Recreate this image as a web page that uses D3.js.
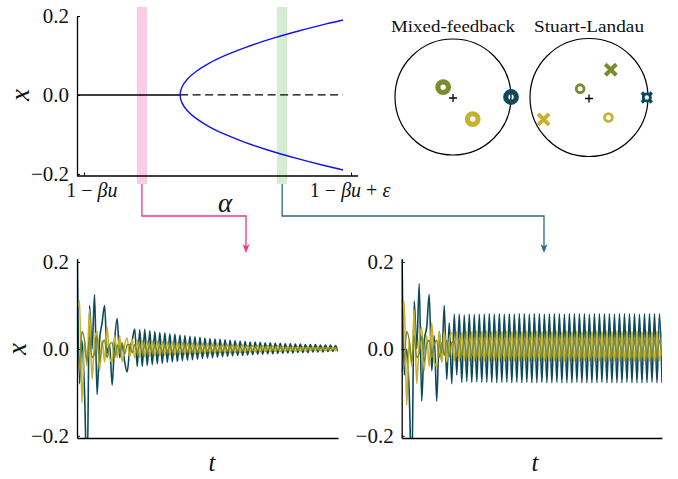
<!DOCTYPE html>
<html lang="en">
  <head>
    <meta charset="UTF-8" />
    <title>Mixed-feedback vs Stuart-Landau</title>
    <script src="https://d3js.org/d3.v7.min.js"></script>
    <style>
      body { margin: 0; background: #fff; }
      text { font-family: "Liberation Serif", "DejaVu Serif", serif; fill: #111; }
    </style>
  </head>
  <body>
    <div id="fig"></div>
    <script>
      // ---- bifurcation diagram data ----
      var alphaTicks = [0, 1];
      var alphaTickLabels = ["1 − βu", "1 − βu + ε"];
      var xTicks = [-0.2, 0, 0.2];
      var xTickLabels = ["−0.2", "0.0", "0.2"];
      var stableAlpha = [-0.026, 0.36];
      var unstableAlpha = [0.36, 0.97];
      var branchX = [-0.19, -0.18, -0.16, -0.14, -0.12, -0.10, -0.08, -0.06, -0.04, -0.02, 0,
                     0.02, 0.04, 0.06, 0.08, 0.10, 0.12, 0.14, 0.16, 0.18, 0.19];
      var branchAlpha = [0.97, 0.907, 0.793, 0.691, 0.603, 0.529, 0.468, 0.421, 0.387, 0.367, 0.36,
                         0.367, 0.387, 0.421, 0.468, 0.529, 0.603, 0.691, 0.793, 0.907, 0.97];
      var bandAlpha = [0.217, 0.742];
      var bandHalfWidth = 0.019;

      // ---- eigenvalues (re, im in units of the unit circle) ----
      var mfRe = [-0.17, 0.34, 1.0];
      var mfIm = [0.17, -0.38, 0.0];
      var mfKind = ["ring", "ring", "ring"];
      var mfSeries = ["olive", "yellow", "teal"];
      var slRe = [0.37, -0.15, -0.77, 0.33, 0.98];
      var slIm = [0.47, 0.15, -0.37, -0.34, 0.0];
      var slKind = ["x", "o", "x", "o", "xo"];
      var slSeries = ["olive", "olive", "yellow", "yellow", "teal"];

      // ---- time series, extrema every half period ----
      var leftTeal = [0.30, -0.08, 0.02, -0.10, -0.30, 0.10, 0.00, 0.125, -0.105, 0.02, 0.06, 0.10, -0.01, 0.01, -0.083,
        0.02, 0.07, -0.02, 0.01, -0.03, -0.053, 0.00, 0.02, 0.046, -0.040, 0.044, -0.040, 0.045, -0.038, 0.042,
        -0.036, 0.040, -0.034, 0.038, -0.033, 0.037, -0.031, 0.035, -0.030, 0.034, -0.029, 0.032, -0.027, 0.031,
        -0.026, 0.029, -0.025, 0.028, -0.024, 0.027, -0.022, 0.025, -0.021, 0.024, -0.020, 0.023, -0.019, 0.022,
        -0.018, 0.021, -0.017, 0.020, -0.016, 0.019, -0.015, 0.018, -0.015, 0.017, -0.014, 0.016, -0.013, 0.016,
        -0.012, 0.015, -0.012, 0.014, -0.011, 0.014, -0.011, 0.013, -0.010, 0.013, -0.010, 0.012, -0.009, 0.012,
        -0.009, 0.011, -0.008, 0.011, -0.008, 0.010, -0.008, 0.010, -0.007, 0.010, -0.007, 0.009, -0.007, 0.009,
        -0.006, 0.009, -0.006, 0.008, -0.006];
      var leftYellow = [0.09, 0.11, -0.125, 0.02, -0.04, 0.09, -0.07, 0.02, 0.04, -0.05, 0.02, -0.03, 0.05, -0.02, -0.03,
        0.03, -0.02, 0.03, -0.03, 0.01, 0.025, -0.020, 0.022, -0.020, 0.021, -0.019, 0.020, -0.018, 0.019, -0.017,
        0.018, -0.016, 0.018, -0.016, 0.017, -0.015, 0.016, -0.014, 0.016, -0.014, 0.015, -0.013, 0.014, -0.013,
        0.014, -0.012, 0.013, -0.012, 0.013, -0.011, 0.012, -0.011, 0.012, -0.010, 0.011, -0.010, 0.011, -0.009,
        0.010, -0.009, 0.010, -0.009, 0.009, -0.008, 0.009, -0.008, 0.009, -0.008, 0.008, -0.007, 0.008, -0.007,
        0.008, -0.007, 0.007, -0.006, 0.007, -0.006, 0.007, -0.006, 0.007, -0.006, 0.006, -0.005, 0.006, -0.005,
        0.006, -0.005, 0.006, -0.005, 0.005, -0.005, 0.005, -0.004, 0.005, -0.004, 0.005, -0.004, 0.005, -0.004,
        0.004, -0.004, 0.004, -0.004, 0.004];
      var leftOlive = [-0.05, -0.03, 0.04, 0.02, -0.03, 0.03, -0.02, -0.01, 0.03, -0.03, 0.01, 0.02, -0.02, 0.01, 0.015,
        -0.02, 0.01, -0.01, 0.015, -0.012, 0.010, 0.010, -0.009, 0.010, -0.009, 0.010, -0.009, 0.009, -0.008, 0.009,
        -0.008, 0.009, -0.008, 0.008, -0.007, 0.008, -0.007, 0.008, -0.007, 0.007, -0.007, 0.007, -0.006, 0.007,
        -0.006, 0.007, -0.006, 0.006, -0.006, 0.006, -0.005, 0.006, -0.005, 0.006, -0.005, 0.005, -0.005, 0.005,
        -0.005, 0.005, -0.004, 0.005, -0.004, 0.005, -0.004, 0.004, -0.004, 0.004, -0.004, 0.004, -0.004, 0.004,
        -0.003, 0.004, -0.003, 0.004, -0.003, 0.004, -0.003, 0.003, -0.003, 0.003, -0.003, 0.003, -0.003, 0.003,
        -0.003, 0.003, -0.003, 0.003, -0.002, 0.003, -0.002, 0.003, -0.002, 0.003, -0.002, 0.002, -0.002, 0.002,
        -0.002, 0.002, -0.002, 0.002, -0.002];

      var rightTeal = [0.30, -0.06, 0.00, -0.10, -0.30, 0.11, 0.00, 0.15, -0.12, 0.02, 0.05, 0.125, -0.05, 0.03, -0.12,
        0.04, -0.03, 0.10, -0.07, 0.06, -0.08, 0.08, -0.06, 0.080, -0.077, 0.078, -0.075, 0.080, -0.077, 0.079,
        -0.076, 0.080, -0.077, 0.080, -0.077, 0.081, -0.077, 0.080, -0.078, 0.081, -0.077, 0.080, -0.077, 0.081,
        -0.078, 0.080, -0.077, 0.081, -0.078, 0.081, -0.077, 0.080, -0.078, 0.081, -0.078, 0.081, -0.077, 0.080,
        -0.078, 0.081, -0.078, 0.081, -0.077, 0.081, -0.078, 0.080, -0.078, 0.081, -0.078, 0.081, -0.077, 0.081,
        -0.078, 0.081, -0.078, 0.080, -0.078, 0.081, -0.078, 0.081, -0.077, 0.081, -0.078, 0.081, -0.078, 0.080,
        -0.078, 0.081, -0.078, 0.081, -0.077, 0.081, -0.078, 0.081, -0.078, 0.080, -0.078, 0.081, -0.078, 0.081,
        -0.077, 0.081, -0.078, 0.081, -0.078];
      var rightYellow = [0.09, 0.11, -0.13, 0.02, -0.04, 0.09, -0.08, 0.02, 0.05, -0.05, 0.03, -0.04, 0.06, -0.03, -0.04,
        0.04, -0.03, 0.04, -0.03, 0.02, 0.038, -0.028, 0.040, -0.028, 0.039, -0.027, 0.040, -0.028, 0.040, -0.028,
        0.041, -0.027, 0.040, -0.028, 0.041, -0.028, 0.040, -0.027, 0.041, -0.028, 0.040, -0.028, 0.041, -0.027,
        0.040, -0.028, 0.041, -0.028, 0.040, -0.027, 0.041, -0.028, 0.040, -0.028, 0.041, -0.027, 0.040, -0.028,
        0.041, -0.028, 0.040, -0.027, 0.041, -0.028, 0.040, -0.028, 0.041, -0.027, 0.040, -0.028, 0.041, -0.028,
        0.040, -0.027, 0.041, -0.028, 0.040, -0.028, 0.041, -0.027, 0.040, -0.028, 0.041, -0.028, 0.040, -0.027,
        0.041, -0.028, 0.040, -0.028, 0.041, -0.027, 0.040, -0.028, 0.041, -0.028, 0.040, -0.027, 0.041, -0.028,
        0.040, -0.028, 0.041, -0.027, 0.040];
      var rightOlive = [-0.05, -0.03, 0.04, 0.02, -0.03, 0.03, -0.02, -0.01, 0.03, -0.03, 0.01, 0.02, -0.02, 0.01, 0.02,
        -0.02, 0.015, -0.015, 0.02, -0.018, 0.015, 0.018, -0.018, 0.020, -0.018, 0.020, -0.019, 0.020, -0.018, 0.021,
        -0.019, 0.020, -0.019, 0.021, -0.018, 0.020, -0.019, 0.021, -0.019, 0.020, -0.018, 0.021, -0.019, 0.020,
        -0.019, 0.021, -0.018, 0.020, -0.019, 0.021, -0.019, 0.020, -0.018, 0.021, -0.019, 0.020, -0.019, 0.021,
        -0.018, 0.020, -0.019, 0.021, -0.019, 0.020, -0.018, 0.021, -0.019, 0.020, -0.019, 0.021, -0.018, 0.020,
        -0.019, 0.021, -0.019, 0.020, -0.018, 0.021, -0.019, 0.020, -0.019, 0.021, -0.018, 0.020, -0.019, 0.021,
        -0.019, 0.020, -0.018, 0.021, -0.019, 0.020, -0.019, 0.021, -0.018, 0.020, -0.019, 0.021, -0.019, 0.020,
        -0.018, 0.021, -0.019, 0.020, -0.019];

      var colors = { teal: "#0c4a5b", yellow: "#c8b12c", olive: "#7c8a2e" };

      var svg = d3.select("#fig").append("svg").attr("width", 678).attr("height", 479);

      // draws text where letters are italic (math) and the rest upright
      function mathText(sel, str) {
        str.split("").forEach(function (ch) {
          var t = sel.append("tspan").text(ch);
          if (/[a-zA-Zα-ω]/.test(ch)) t.style("font-style", "italic");
        });
        return sel;
      }

      // ================= bifurcation diagram =================
      var a = d3.scaleLinear().domain([-0.026, 1.026]).range([77, 358]);
      var y0 = d3.scaleLinear().domain([-0.204, 0.2]).range([175.5, 16]);

      svg.selectAll(".band").data(bandAlpha).enter().append("rect")
        .attr("x", function (d) { return a(d - bandHalfWidth); })
        .attr("width", function (d) { return a(d + bandHalfWidth) - a(d - bandHalfWidth); })
        .attr("y", 7).attr("height", 177)
        .attr("fill", function (d, i) { return i == 0 ? "#f9cce3" : "#d5ecd0"; });

      var gy0 = svg.append("g").attr("transform", "translate(77,0)")
        .call(d3.axisLeft(y0).tickValues(xTicks).tickSize(-3).tickSizeOuter(0).tickPadding(8)
          .tickFormat(function (d, i) { return xTickLabels[i]; }));
      var gx0 = svg.append("g").attr("transform", "translate(0,175.5)")
        .call(d3.axisBottom(a).tickValues(alphaTicks).tickSize(-3).tickSizeOuter(0).tickFormat(""));
      gx0.select(".domain").attr("d", "M77,0.5H358");

      alphaTickLabels.forEach(function (lab, i) {
        var t = svg.append("text").attr("x", a(alphaTicks[i]) + (i == 0 ? 8 : -1)).attr("y", 197)
          .attr("text-anchor", "middle").style("font-size", "20px");
        mathText(t, lab);
      });

      var line0 = d3.line().x(function (d) { return a(d[0]); }).y(function (d) { return y0(d[1]); });
      svg.append("path").attr("d", line0(stableAlpha.map(function (v) { return [v, 0]; })))
        .attr("stroke", "#000").attr("stroke-width", 1.6).attr("fill", "none");
      svg.append("path").attr("d", line0(unstableAlpha.map(function (v) { return [v, 0]; })))
        .attr("stroke", "#000").attr("stroke-width", 1.2).attr("stroke-dasharray", "8,4.5").attr("fill", "none");
      svg.append("path")
        .attr("d", d3.line().curve(d3.curveCatmullRom)
          .x(function (d, i) { return a(branchAlpha[i]); })
          .y(function (d) { return y0(d); })(branchX))
        .attr("stroke", "#1010f0").attr("stroke-width", 1.4).attr("fill", "none");

      svg.append("text").attr("transform", "translate(29,95) rotate(-90)").attr("text-anchor", "middle")
        .style("font-size", "27px").style("font-style", "italic").text("x");
      svg.append("text").attr("x", 225).attr("y", 212).attr("text-anchor", "middle")
        .style("font-size", "27px").style("font-style", "italic").text("α");

      // ================= eigenvalue disks =================
      var disks = [
        { title: "Mixed-feedback", cx: 453, cy: 97, r: 58, re: mfRe, im: mfIm, kind: mfKind, ser: mfSeries, tw: 124 },
        { title: "Stuart-Landau", cx: 589, cy: 97.5, r: 59, re: slRe, im: slIm, kind: slKind, ser: slSeries, tw: 110 }
      ];
      disks.forEach(function (dk) {
        var sx = d3.scaleLinear().domain([-1, 1]).range([dk.cx - dk.r, dk.cx + dk.r]);
        var sy = d3.scaleLinear().domain([-1, 1]).range([dk.cy + dk.r, dk.cy - dk.r]);
        var g = svg.append("g");
        g.append("text").attr("x", dk.cx).attr("y", 32).attr("text-anchor", "middle")
          .attr("textLength", dk.tw).attr("lengthAdjust", "spacingAndGlyphs")
          .style("font-size", "17px").text(dk.title);
        g.append("circle").attr("cx", dk.cx).attr("cy", dk.cy).attr("r", dk.r)
          .attr("fill", "none").attr("stroke", "#000").attr("stroke-width", 1.2);
        g.append("path").attr("d", "M" + (dk.cx - 4) + "," + (dk.cy + 1) + "h8M" + dk.cx + "," + (dk.cy - 3) + "v8")
          .attr("stroke", "#000").attr("stroke-width", 1.3);
        dk.re.forEach(function (re, i) {
          var px = sx(re), py = sy(dk.im[i]), c = colors[dk.ser[i]], k = dk.kind[i];
          if (k == "x" || k == "xo") {
            var s = k == "x" ? 5.5 : 5;
            g.append("path").attr("d", "M" + (px - s) + "," + (py - s) + "L" + (px + s) + "," + (py + s) +
              "M" + (px - s) + "," + (py + s) + "L" + (px + s) + "," + (py - s))
              .attr("stroke", c).attr("stroke-width", k == "x" ? 4 : 3.2).attr("fill", "none");
          }
          if (k == "ring") {
            g.append("circle").attr("cx", px).attr("cy", py).attr("r", 5.3)
              .attr("fill", "none").attr("stroke", c).attr("stroke-width", 5.2);
          } else if (k == "o") {
            g.append("circle").attr("cx", px).attr("cy", py).attr("r", 3.9)
              .attr("fill", "none").attr("stroke", c).attr("stroke-width", 2.8);
          } else if (k == "xo") {
            g.append("circle").attr("cx", px).attr("cy", py).attr("r", 3.6)
              .attr("fill", "#fff").attr("stroke", c).attr("stroke-width", 2.8);
          }
        });
      });

      // ================= connector arrows =================
      var arrows = [
        { from: bandAlpha[0], toX: 246, color: "#f7308c" },
        { from: bandAlpha[1], toX: 544, color: "#2c6887" }
      ];
      arrows.forEach(function (ar) {
        var x1 = a(ar.from);
        svg.append("path").attr("d", "M" + x1 + ",184V216H" + ar.toX + "V247")
          .attr("fill", "none").attr("stroke", ar.color).attr("stroke-width", 1.3);
        svg.append("path").attr("d", "M" + (ar.toX - 3.5) + ",244L" + ar.toX + ",253L" + (ar.toX + 3.5) + ",244L" + ar.toX + ",246.5Z")
          .attr("fill", ar.color);
      });

      // ================= time series panels =================
      var panels = [
        { x0: 77, x1: 338, teal: leftTeal, yellow: leftYellow, olive: leftOlive, tx: 212 },
        { x0: 401.7, x1: 662, teal: rightTeal, yellow: rightYellow, olive: rightOlive, tx: 535 }
      ];
      var yB = d3.scaleLinear().domain([-0.205, 0.207]).range([438, 259]);
      panels.forEach(function (p, pi) {
        var tS = d3.scaleLinear().domain([0, 104]).range([p.x0, p.x1]);
        svg.append("clipPath").attr("id", "clip" + pi).append("rect")
          .attr("x", p.x0).attr("y", 259).attr("width", p.x1 - p.x0).attr("height", 179);
        var ln = d3.line().curve(d3.curveMonotoneX)
          .x(function (d, i) { return tS(i); }).y(function (d) { return yB(d); });
        var g = svg.append("g").attr("clip-path", "url(#clip" + pi + ")");
        [["teal", 1.6], ["yellow", 1.6], ["olive", 1.4]].forEach(function (s) {
          g.append("path").attr("d", ln(p[s[0]])).attr("fill", "none")
            .attr("stroke", colors[s[0]]).attr("stroke-width", s[1]).attr("stroke-linejoin", "round");
        });
        svg.append("g").attr("transform", "translate(" + p.x0 + ",0)")
          .call(d3.axisLeft(yB).tickValues(xTicks).tickSize(-3).tickSizeOuter(0).tickPadding(8)
            .tickFormat(function (d, i) { return xTickLabels[i]; }));
        svg.append("g").attr("transform", "translate(0,438)")
          .call(d3.axisBottom(tS).tickValues([]).tickSizeOuter(0));
        svg.append("text").attr("x", p.tx).attr("y", 471).attr("text-anchor", "middle")
          .style("font-size", "25px").style("font-style", "italic").text("t");
      });
      svg.append("text").attr("transform", "translate(26,349) rotate(-90)").attr("text-anchor", "middle")
        .style("font-size", "27px").style("font-style", "italic").text("x");

      svg.selectAll(".tick text").style("font-size", "21px").style("font-family", "'Liberation Serif', serif").attr("fill", "#111");
      svg.selectAll(".domain").attr("stroke-width", 1.3);
    </script>
  </body>
</html>
